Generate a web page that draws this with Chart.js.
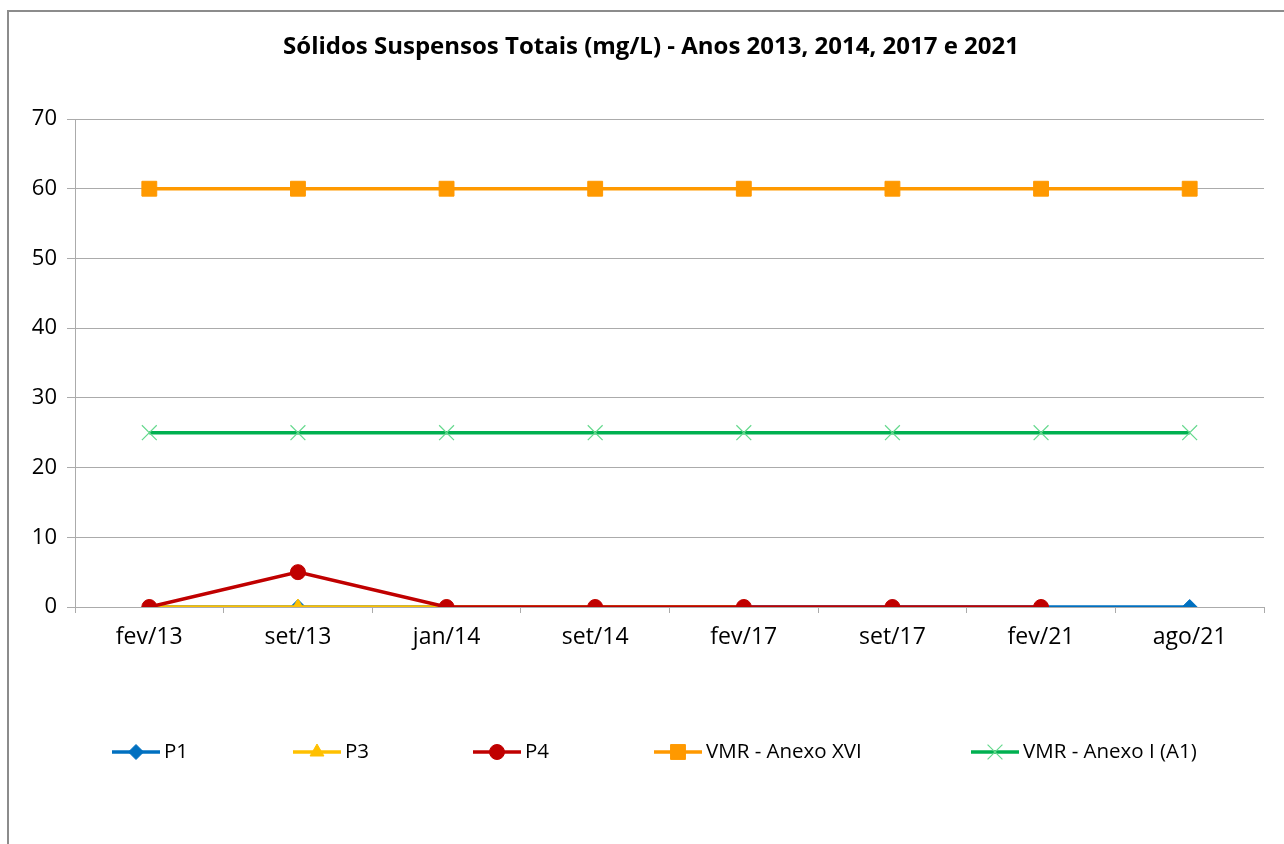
<!DOCTYPE html>
<html>
<head>
<meta charset="utf-8">
<script src="https://cdn.jsdelivr.net/npm/chart.js@4"></script>
<style>
body { margin: 0; background: #fff; }
#wrap { position: relative; width: 1284px; height: 844px; overflow: hidden; }
#frame { position: absolute; left: 7px; top: 10px; width: 1400px; height: 1000px; border: 2px solid #8c8c8c; pointer-events: none; }
</style>
</head>
<body>
<div id="wrap">
  <canvas id="chart"></canvas>
  <div id="frame"></div>
</div>
<script>
// data
const labels = ['fev/13', 'set/13', 'jan/14', 'set/14', 'fev/17', 'set/17', 'fev/21', 'ago/21'];
const p1 = [0, 0, 0, 0, 0, 0, 0, 0];
const p3 = [0, 0, 0, 0, 0, null, 0, null];
const p4 = [0, 5, 0, 0, 0, 0, 0, null];
const vmrAnexoXVI = [60, 60, 60, 60, 60, 60, 60, 60];
const vmrAnexoI = [25, 25, 25, 25, 25, 25, 25, 25];
const yMin = 0, yMax = 70, yStep = 10;
const titleText = 'Sólidos Suspensos Totais (mg/L) - Anos 2013, 2014, 2017 e 2021';

const font = '"Open Sans", "Liberation Sans", sans-serif';
const legendX = [112, 293, 473, 654, 971]; // where each legend entry starts
const legendY = 752;

// title sits centred on the whole frame, not on the plot
const frameTitle = {
    id: 'frameTitle',
    afterDraw(chart) {
        const ctx = chart.ctx;
        ctx.save();
        ctx.fillStyle = '#000';
        ctx.font = 'bold 24px ' + font;
        ctx.textAlign = 'center';
        ctx.textBaseline = 'middle';
        ctx.fillText(titleText, 651, 47);
        ctx.restore();
    }
};

// Excel-like legend: short line with the marker on it
const bottomLegend = {
    id: 'bottomLegend',
    afterDraw(chart) {
        const ctx = chart.ctx;
        chart.data.datasets.forEach((ds, i) => {
            const x = legendX[i];
            ctx.save();
            ctx.strokeStyle = ds.borderColor;
            ctx.lineWidth = ds.borderWidth;
            ctx.beginPath();
            ctx.moveTo(x, legendY);
            ctx.lineTo(x + 48, legendY);
            ctx.stroke();
            ctx.fillStyle = ds.pointBackgroundColor;
            ctx.strokeStyle = ds.pointBorderColor;
            ctx.lineWidth = ds.pointBorderWidth;
            Chart.helpers.drawPoint(ctx, {
                pointStyle: ds.pointStyle,
                radius: ds.pointRadius,
                borderWidth: ds.pointBorderWidth,
                rotation: 0
            }, x + 24, legendY);
            ctx.fillStyle = '#000';
            ctx.font = '20.5px ' + font;
            ctx.textBaseline = 'middle';
            ctx.fillText(ds.label, x + 52, legendY);
            ctx.restore();
        });
    }
};

const ctx = document.getElementById('chart').getContext('2d');
const chart = new Chart(ctx, {
    type: 'line',
    data: {
        labels: labels,
        datasets: [
            {
                label: 'P1', data: p1, order: 5,
                borderColor: '#0070C0', borderWidth: 3.5,
                pointStyle: 'rectRot', pointRadius: 7.5,
                pointBackgroundColor: '#0070C0', pointBorderColor: '#0070C0', pointBorderWidth: 1
            },
            {
                label: 'P3', data: p3, order: 4,
                borderColor: '#FFC000', borderWidth: 3.5,
                pointStyle: 'triangle', pointRadius: 8,
                pointBackgroundColor: '#FFC000', pointBorderColor: '#FFC000', pointBorderWidth: 1
            },
            {
                label: 'P4', data: p4, order: 3,
                borderColor: '#C00000', borderWidth: 3.5,
                pointStyle: 'circle', pointRadius: 7.5,
                pointBackgroundColor: '#C00000', pointBorderColor: '#C00000', pointBorderWidth: 1
            },
            {
                label: 'VMR - Anexo XVI', data: vmrAnexoXVI, order: 2,
                borderColor: '#FF9900', borderWidth: 3.5,
                pointStyle: 'rect', pointRadius: 10.5,
                pointBackgroundColor: '#FF9900', pointBorderColor: '#FF9900', pointBorderWidth: 1
            },
            {
                label: 'VMR - Anexo I (A1)', data: vmrAnexoI, order: 1,
                borderColor: '#00B050', borderWidth: 3.5,
                pointStyle: 'crossRot', pointRadius: 10.5,
                pointBackgroundColor: '#66D98E', pointBorderColor: '#66D98E', pointBorderWidth: 1.2
            }
        ]
    },
    options: {
        responsive: true,
        maintainAspectRatio: false,
        animation: false,
        spanGaps: false,
        layout: { padding: { left: 0, right: 20, top: 119, bottom: 0 } },
        plugins: {
            legend: { display: false },
            tooltip: { enabled: false },
            title: { display: false }
        },
        scales: {
            x: {
                offset: true,
                grid: { offset: true, drawOnChartArea: false, tickLength: 6, color: '#ababab' },
                border: { color: '#ababab' },
                ticks: { color: '#000', font: { family: font, size: 23 }, padding: 11, maxRotation: 0 },
                afterFit(scale) { scale.height = 237; }
            },
            y: {
                min: yMin, max: yMax,
                grid: { color: '#ababab', tickLength: 8 },
                border: { color: '#ababab' },
                ticks: { stepSize: yStep, color: '#000', font: { family: font, size: 22 }, padding: 10 },
                afterFit(scale) { scale.width = 75; }
            }
        }
    },
    plugins: [frameTitle, bottomLegend]
});
</script>
</body>
</html>
